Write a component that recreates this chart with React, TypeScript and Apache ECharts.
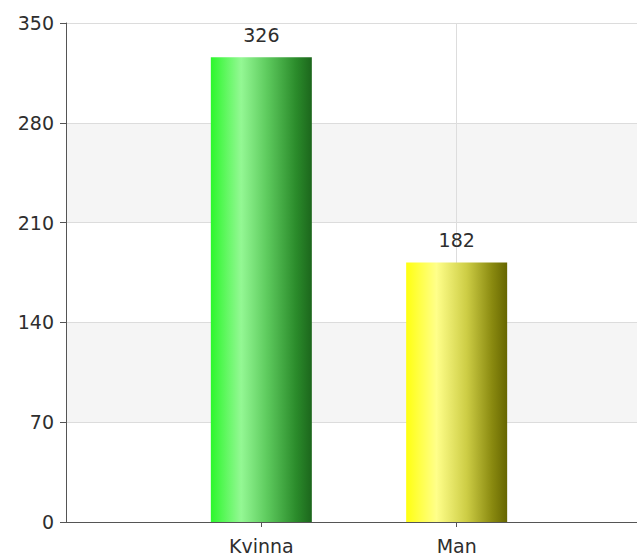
import React, { useEffect, useRef } from "react";
import * as echarts from "echarts";

const categories = ["Kvinna", "Man"];
const values = [326, 182];
const yMin = 0;
const yMax = 350;
const yInterval = 70;

const barGradients = [
  [
    { offset: 0, color: "#2cf72c" },
    { offset: 0.3, color: "#94f894" },
    { offset: 0.55, color: "#5fcc5f" },
    { offset: 0.85, color: "#2a8a2a" },
    { offset: 1, color: "#1c661c" },
  ],
  [
    { offset: 0, color: "#ffff10" },
    { offset: 0.3, color: "#ffff8a" },
    { offset: 0.6, color: "#cdcd45" },
    { offset: 0.85, color: "#8a8a10" },
    { offset: 1, color: "#666600" },
  ],
];

export default function App() {
  const ref = useRef<HTMLDivElement>(null);
  useEffect(() => {
    if (!ref.current) return;
    const chart = echarts.init(ref.current, null, { renderer: "svg" });
    const axisCats = ["", ...categories, ""];
    const seriesData = [
      "-",
      ...values.map((v, i) => ({
        value: v,
        itemStyle: {
          color: new echarts.graphic.LinearGradient(0, 0, 1, 0, barGradients[i]),
        },
      })),
      "-",
    ];
    const font = "DejaVu Sans";
    chart.setOption({
      animation: false,
      backgroundColor: "#ffffff",
      grid: {
        left: 66,
        top: 23,
        bottom: 36,
        right: -15,
        outerBoundsMode: "none",
        containLabel: false,
      },
      xAxis: {
        type: "category",
        data: axisCats,
        boundaryGap: false,
        axisLine: { show: true, lineStyle: { color: "#555555", width: 1 } },
        axisTick: {
          show: true,
          length: 5,
          interval: (idx: number) => idx === 1 || idx === 2,
          lineStyle: { color: "#555555" },
        },
        axisLabel: {
          interval: 0,
          margin: 14,
          color: "#2e2e2e",
          fontFamily: font,
          fontSize: 19,
        },
        splitLine: {
          show: true,
          interval: (idx: number) => idx === 2,
          lineStyle: { color: "#dddddd", width: 1 },
        },
      },
      yAxis: {
        type: "value",
        min: yMin,
        max: yMax,
        interval: yInterval,
        axisLine: { show: true, lineStyle: { color: "#555555", width: 1 } },
        axisTick: { show: true, length: 6, lineStyle: { color: "#555555" } },
        axisLabel: {
          margin: 12,
          color: "#2e2e2e",
          fontFamily: font,
          fontSize: 19,
        },
        splitLine: { show: true, lineStyle: { color: "#dcdcdc", width: 1 } },
        splitArea: {
          show: true,
          areaStyle: { color: ["#ffffff", "#f5f5f5"] },
        },
      },
      series: [
        {
          type: "bar",
          data: seriesData,
          barWidth: 101,
          label: {
            show: true,
            position: "top",
            distance: 13,
            color: "#2e2e2e",
            fontFamily: font,
            fontSize: 19,
          },
        },
      ],
    });
    return () => chart.dispose();
  }, []);
  return (
    <div
      ref={ref}
      style={{ position: "fixed", left: 0, top: 0, width: 637, height: 558 }}
    />
  );
}
